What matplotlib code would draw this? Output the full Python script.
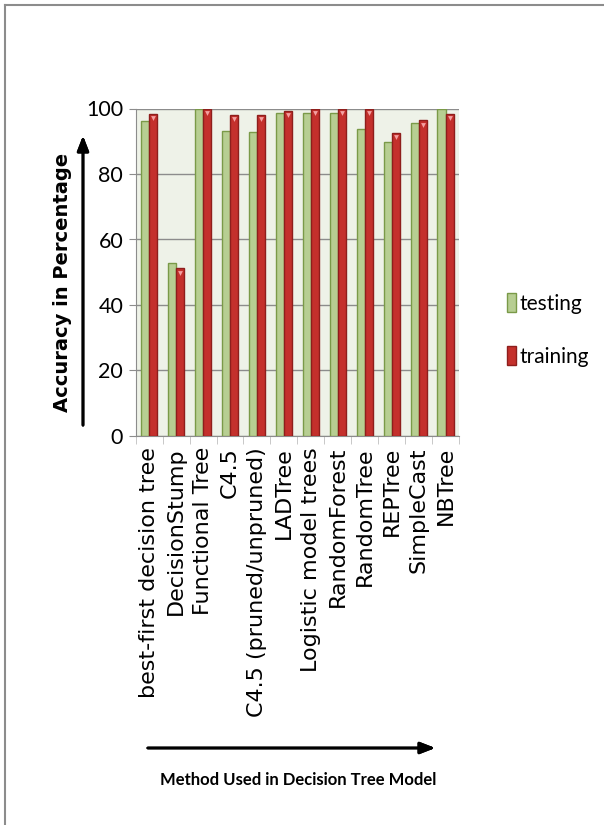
import matplotlib
matplotlib.use("Agg")
import matplotlib.pyplot as plt
import numpy as np
from matplotlib.lines import Line2D
from matplotlib.patches import Patch

categories = ["best-first decision tree", "DecisionStump", "Functional Tree", "C4.5",
              "C4.5 (pruned/unpruned)", "LADTree", "Logistic model trees",
              "RandomForest", "RandomTree", "REPTree", "SimpleCast", "NBTree"]
testing = [96.1, 52.9, 100, 93.2, 92.8, 98.5, 98.5, 98.5, 93.7, 89.9, 95.6, 100]
training = [98.3, 51.2, 100, 98.0, 98.0, 99.2, 100, 100, 100, 92.6, 96.4, 98.3]
yticks = [0, 20, 40, 60, 80, 100]

W, H = 604, 825
fig = plt.figure(figsize=(W / 100, H / 100), dpi=100)
narrow = ['Lato', 'DejaVu Sans']

ax = fig.add_axes([135.7 / W, 1 - 436 / H, (459 - 135.7) / W, (436 - 108.5) / H])
ax.set_facecolor('#EEF2E8')
x = np.arange(len(categories))
bw = 0.3
ax.bar(x - 0.15, testing, bw, color='#B7CE92', edgecolor='#7A9A48', linewidth=1, zorder=3)
ax.bar(x + 0.15, training, bw, color='#C4302C', edgecolor='#8E1E1C', linewidth=1, zorder=3)
ax.scatter(x + 0.15, np.array(training) - 1.3, marker='v', s=12, color='#F4A0A0', zorder=4,
           linewidths=0)

ax.set_xlim(-0.5, len(categories) - 0.5)
ax.set_ylim(0, 100)
ax.set_yticks(yticks)
ax.set_yticklabels([str(v) for v in yticks], family=narrow, fontsize=15.5)
ax.yaxis.grid(True, color='#8C8C8C', linewidth=1, zorder=1)
ax.set_axisbelow(True)
ax.tick_params(axis='y', length=5, color='#8C8C8C', pad=4)
ax.set_xticks(x)
ax.set_xticklabels(categories, rotation=90, fontsize=16, family='DejaVu Sans')
ax.tick_params(axis='x', length=0, pad=8)
ax.set_xticks(np.arange(len(categories) + 1) - 0.5, minor=True)
ax.tick_params(axis='x', which='minor', length=6, color='#BFBFBF')
for s in ['top', 'right']:
    ax.spines[s].set_visible(False)
ax.spines['left'].set_color('#8C8C8C')
ax.spines['bottom'].set_color('#8C8C8C')

# legend
handles = [Patch(facecolor='#B7CE92', edgecolor='#7A9A48', label='testing'),
           Patch(facecolor='#C4302C', edgecolor='#8E1E1C', label='training')]
fig.legend(handles=handles, loc='center left', bbox_to_anchor=(488 / W, 1 - 330 / H),
           frameon=False, prop={'family': narrow, 'size': 15}, handlelength=0.45,
           handleheight=1.0, handletextpad=0.15, labelspacing=1.55)

# arrows
def fp(px, py):
    return (px / W, 1 - py / H)

fig.add_artist(plt.annotate('', xy=fp(83, 133), xytext=fp(83, 428), xycoords='figure fraction',
                            textcoords='figure fraction',
                            arrowprops=dict(arrowstyle='-|>,head_length=0.9,head_width=0.35',
                                            color='black', lw=2)))
fig.add_artist(plt.annotate('', xy=fp(438, 748), xytext=fp(145, 748), xycoords='figure fraction',
                            textcoords='figure fraction',
                            arrowprops=dict(arrowstyle='-|>,head_length=0.9,head_width=0.35',
                                            color='black', lw=2)))

fig.text(*fp(63, 282), 'Accuracy in Percentage', rotation=90, ha='center', va='center',
         fontsize=14, fontweight='bold', family='DejaVu Sans')
fig.text(*fp(298, 780), 'Method Used in Decision Tree Model', ha='center', va='center',
         fontsize=12, fontweight='bold', family=narrow)

# frame
fig.add_artist(Line2D([5 / W, 5 / W], [0, 1 - 5 / H], color='#8C8C8C', lw=1.5,
                      transform=fig.transFigure))
fig.add_artist(Line2D([5 / W, 1], [1 - 5 / H, 1 - 5 / H], color='#8C8C8C', lw=1.5,
                      transform=fig.transFigure))

fig.savefig('out.png', dpi=100)
